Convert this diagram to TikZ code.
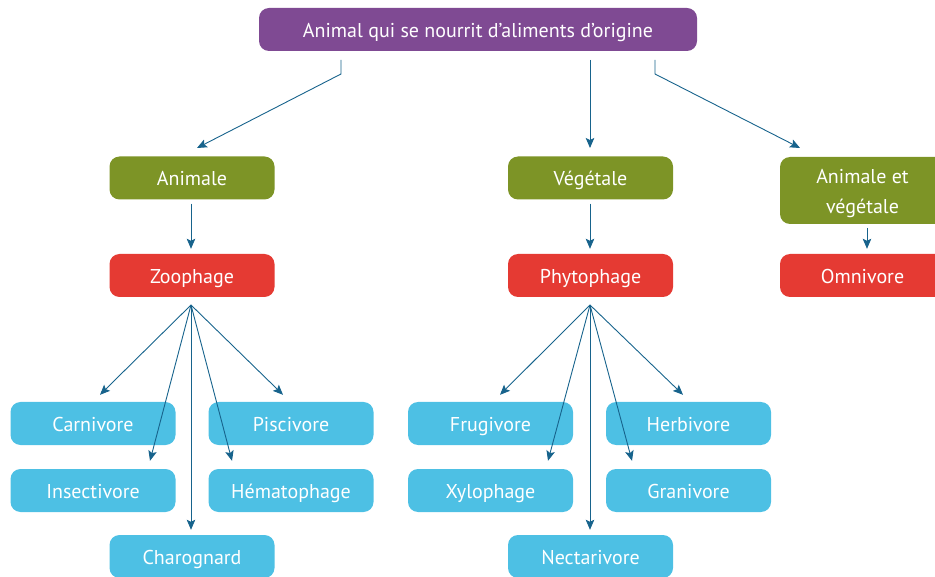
\documentclass[tikz,border=0pt]{standalone}
\usepackage{fontspec}
\setmainfont{PT Sans}
\usetikzlibrary{arrows.meta,calc}
\definecolor{violetbox}{HTML}{7F4A93}
\definecolor{greenbox}{HTML}{7D9426}
\definecolor{redbox}{HTML}{E53A33}
\definecolor{bluebox}{HTML}{4DC0E4}
\definecolor{linkcol}{HTML}{17638C}
\tikzset{
  boxbase/.style={rounded corners=10pt, minimum width=165pt, minimum height=43pt,
    text=white, font=\fontsize{20}{24}\selectfont, inner sep=0pt, align=center},
  box/.style={boxbase, text height=18pt, text depth=2pt},
  topbox/.style={box, fill=violetbox, minimum width=438pt},
  catbox/.style={box, fill=greenbox},
  regbox/.style={box, fill=redbox},
  leafbox/.style={box, fill=bluebox},
  link/.style={draw=linkcol, line width=0.9pt,
    -{Stealth[length=10pt, width=8.5pt, inset=2pt]}},
}
\begin{document}
\begin{tikzpicture}[x=1pt, y=-1pt]
\useasboundingbox (0,0) rectangle (935,577);

% boxes
\node[topbox] (top) at (478,29.5) {Animal qui se nourrit d’aliments d’origine};
\node[catbox] (animale) at (192,178) {Animale};
\node[catbox] (vegetale) at (590.5,178) {Végétale};
\node[boxbase, fill=greenbox, minimum height=67pt, font=\fontsize{20}{30}\selectfont,
      text height=49pt, text depth=2pt] (mixte) at (862.5,190.5) {Animale et\\végétale};
\node[regbox] (zoo) at (192,275.5) {Zoophage};
\node[regbox] (phyto) at (590.5,275.5) {Phytophage};
\node[regbox] (omni) at (862.5,275.5) {Omnivore};

\node[leafbox] (carni) at (93,423.5) {Carnivore};
\node[leafbox] (pisci) at (291,423.5) {Piscivore};
\node[leafbox] (insect) at (93,490.5) {Insectivore};
\node[leafbox] (hemato) at (291,490.5) {Hématophage};
\node[leafbox] (charo) at (192,556.5) {Charognard};

\node[leafbox] (frugi) at (490.5,423.5) {Frugivore};
\node[leafbox] (herbi) at (688.5,423.5) {Herbivore};
\node[leafbox] (xylo) at (490.5,490.5) {Xylophage};
\node[leafbox] (grani) at (688.5,490.5) {Granivore};
\node[leafbox] (nectar) at (590.5,556.5) {Nectarivore};

% anchor points of the connectors
\coordinate (tl) at (341,60);
\coordinate (tlb) at (341,74);
\coordinate (tm) at (590,60);
\coordinate (tr) at (655,60);
\coordinate (trb) at (655,74);
\coordinate (animaletip) at (197,148);
\coordinate (vegetaletip) at (590,148);
\coordinate (mixtetip) at (800,148);

\coordinate (zoosrc) at (191,305);
\coordinate (phytosrc) at (590,305);

% top level
\draw[link] (tl) -- (tlb) -- (animaletip);
\draw[link] (tm) -- (vegetaletip);
\draw[link] (tr) -- (trb) -- (mixtetip);

% second level
\draw[link] (animale.south -| zoosrc) ++(0,4) -- ($(zoo.north -| zoosrc)+(0,-5)$);
\draw[link] (vegetale.south -| phytosrc) ++(0,4) -- ($(phyto.north -| phytosrc)+(0,-5)$);
\draw[link] (867,228) coordinate (mixtesrc) -- ($(omni.north -| mixtesrc)+(0,-5)$);

% zoophage family
\draw[link] (zoosrc) -- ($(carni.north)+(7,-7)$);
\draw[link] (zoosrc) -- ($(insect.north)+(57,-8)$);
\draw[link] (zoosrc) -- ($(charo.north)+(-1,-5)$);
\draw[link] (zoosrc) -- ($(hemato.north)+(-59,-8)$);
\draw[link] (zoosrc) -- ($(pisci.north)+(-8,-7)$);

% phytophage family
\draw[link] (phytosrc) -- ($(frugi.north)+(9.5,-7)$);
\draw[link] (phytosrc) -- ($(xylo.north)+(57.5,-8)$);
\draw[link] (phytosrc) -- ($(nectar.north)+(-0.5,-5)$);
\draw[link] (phytosrc) -- ($(grani.north)+(-56.5,-8)$);
\draw[link] (phytosrc) -- ($(herbi.north)+(-5.5,-7)$);
\end{tikzpicture}
\end{document}
